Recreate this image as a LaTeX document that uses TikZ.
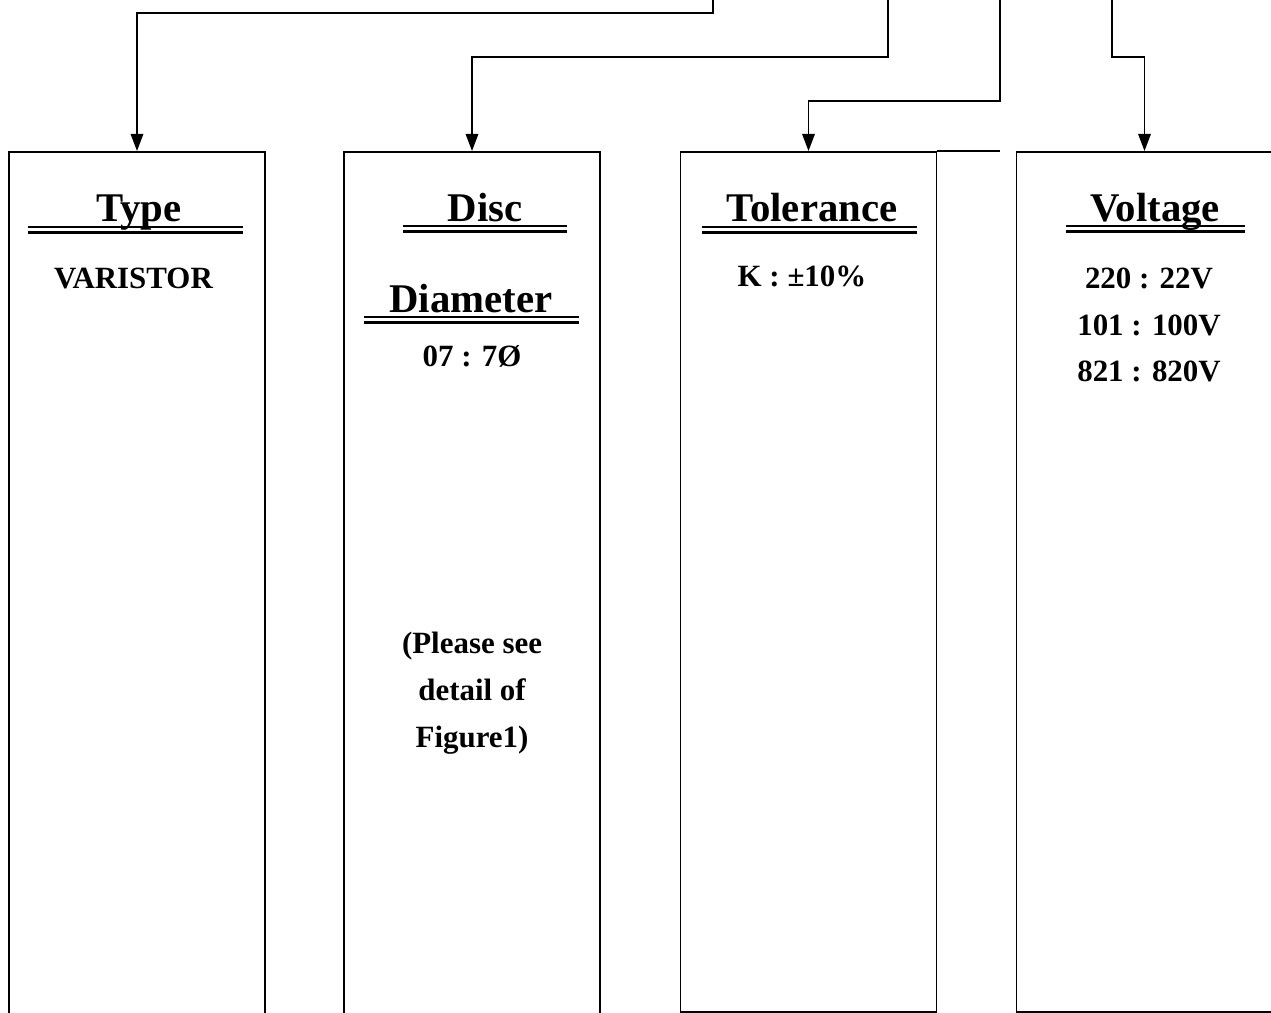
\documentclass[tikz,border=0pt]{standalone}
\usepackage{fontspec}
\setmainfont{Liberation Serif}
\usetikzlibrary{arrows.meta,positioning}

\tikzset{
  colbox/.style={draw=black, line width=0.9pt, minimum width=5.12cm, anchor=north, inner sep=0pt},
  headtxt/.style={font=\fontsize{23.2}{28}\selectfont\bfseries, anchor=base, inner sep=0pt},
  bodytxt/.style={font=\fontsize{17.6}{26.6}\selectfont\bfseries, align=center, inner sep=0pt},
  feed/.style={draw=black, line width=0.9pt, -{Triangle[length=0.34cm,width=0.25cm]}}
}
% double underline below a heading: x from, x to, y
\newcommand{\dblline}[3]{%
  \draw[line width=1.7pt] (#1,#3) -- (#2,#3);
  \draw[line width=1.5pt] (#1,#3+5.5) -- (#2,#3+5.5);}

\begin{document}
\begin{tikzpicture}[x=0.02cm, y=-0.02cm]
        \useasboundingbox (0,0) rectangle (1271,1013);
        \clip (0,0) rectangle (1271,1013);
        % columns
        \node[colbox, minimum height=18cm] (typebox) at (137,151) {};
        \node[colbox, minimum height=18cm] (discbox) at (472,151) {};
        \node[colbox, minimum height=17.2cm] (tolbox) at (808.5,151) {};
        \node[colbox, minimum height=17.2cm] (voltbox) at (1144.5,151) {};
        \draw[line width=0.9pt] (tolbox.north east) -- ++(63,0);
        \draw[line width=1.6pt] (tolbox.south west) -- (tolbox.south east);
        \draw[line width=1.6pt] (voltbox.south west) -- (voltbox.south east);
        % feeds from above
        \coordinate (f1) at (713,-5);
        \coordinate (f2) at (888,-5);
        \coordinate (f3) at (1000,-5);
        \coordinate (f4) at (1112,-5);
        \draw[feed] (f1) -- ++(0,18) -| (typebox.north);
        \draw[feed] (f2) -- ++(0,62) -| (discbox.north);
        \draw[feed] (f3) -- ++(0,106) -| (tolbox.north);
        \draw[feed] (f4) -- ++(0,62) -| (voltbox.north);
        % headings
        \node[headtxt] (typehd) at (139,222) {Type};
        \node[headtxt] (dischd) at (485,222) {Disc};
        \node[headtxt] (diamhd) at (471,313) {Diameter};
        \node[headtxt] (tolhd) at (812,222) {Tolerance};
        \node[headtxt] (volthd) at (1155,222) {Voltage};
        \dblline{28}{243}{227}
        \dblline{403}{567}{226}
        \dblline{364}{579}{317}
        \dblline{702}{917}{227}
        \dblline{1066}{1245}{226}
        % values
        \node[bodytxt, anchor=base] (typeval) at (133.5,289) {VARISTOR};
        \node[bodytxt, anchor=base] (discval) at (472,367) {07 : 7Ø};
        \node[bodytxt] (discnote) at (472,693) {(Please see\\detail of\\Figure1)};
        \node[bodytxt, anchor=base] (tolval) at (802,287) {K :  ±10\%};
        \node[bodytxt] (voltval) at (1149,325) {220 : 22V\\101 : 100V\\821 : 820V};
    \end{tikzpicture}
\end{document}
